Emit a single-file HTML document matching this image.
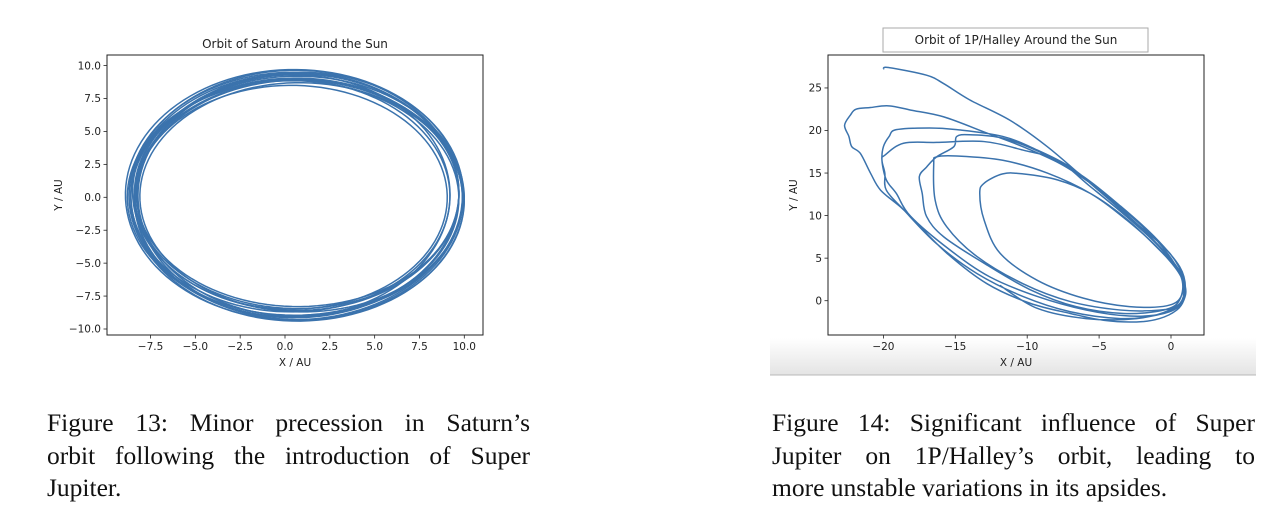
<!DOCTYPE html>
<html><head><meta charset="utf-8">
<style>
html,body{margin:0;padding:0;background:#fff;}
body{width:1288px;height:530px;position:relative;overflow:hidden;}
svg{position:absolute;left:0;top:0;}
.cap{position:absolute;width:483px;font-family:"Liberation Serif",serif;font-size:25.5px;line-height:32.5px;color:#111;}
.cap div{text-align:justify;text-align-last:justify;white-space:nowrap;}
.cap div.last{text-align-last:left;}
</style></head>
<body>
<svg id="svg" width="1288" height="530" xmlns="http://www.w3.org/2000/svg">
<defs>
<linearGradient id="bandg" x1="0" y1="0" x2="0" y2="1">
<stop offset="0" stop-color="#ffffff"/><stop offset="1" stop-color="#e4e4e4"/>
</linearGradient>
</defs>
<rect x="770" y="338" width="486" height="37" fill="url(#bandg)"/>
<line x1="770" y1="375" x2="1256" y2="375" stroke="#b8b8b8" stroke-width="1"/>
<g id="left"></g>
<g id="right"></g>
</svg>
<div class="cap" style="left:47px;top:407px;"><div style="white-space:normal">Figure 13: Minor precession in Saturn’s</div><div style="white-space:normal">orbit following the introduction of Super</div><div class="last">Jupiter.</div></div>
<div class="cap" style="left:772px;top:407px;"><div style="white-space:normal">Figure 14: Significant influence of Super</div><div style="white-space:normal">Jupiter on 1P/Halley’s orbit, leading to</div><div class="last">more unstable variations in its apsides.</div></div>
<script>
// Saturn orbit parameters (AU)
const satCx = [0.5,0.6,0.7,0.4,0.8,0.5,0.9,0.6,0.3,0.7,0.55,0.45,0.75,0.65,0.35,0.85];
const satCy = [0.2,0.0,0.3,0.1,-0.2,0.2,0.0,0.4,0.1,-0.1,0.25,-0.05,0.15,0.3,0.0,0.1];
const satA  = [9.2,9.3,9.0,8.8,9.2,9.4,9.0,9.1,8.9,9.3,9.15,9.25,8.95,9.05,8.7,9.1];
const satB  = [9.3,9.0,8.6,9.2,9.1,9.5,8.7,9.0,8.8,9.3,9.4,8.9,9.2,8.75,8.5,9.4];
const satRot= [-3,-5,-2,-6,-4,-1,-7,-3,-5,-2,-4,-6,-3,-5,-2,-4];
const satXTicks = [-7.5,-5,-2.5,0,2.5,5,7.5,10];
const satYTicks = [-10,-7.5,-5,-2.5,0,2.5,5,7.5,10];
// Halley trajectory (AU)
const halX = [-20,-19.65,-17,-15.8,-14,-11.2,-8.6,-5.9,-3.5,-1.2,0.4,1,0.9,0.4,-0.8,-2.4,-4.7,-7,-9.8,-12.8,-15.6,-17.9,-18.8,-20.2,-20.9,-21.6,-22.2,-22.4,-22.7,-22.3,-21.9,-20.9,-19.65,-18.1,-15.8,-12.8,-10.3,-7.7,-5.6,-3.3,-1,0.5,0.9,0.4,-1,-3.5,-7,-10.3,-13.5,-16.3,-18.6,-19.8,-19.9,-20.1,-20,-19.6,-19.1,-16.8,-14.9,-11.7,-9.3,-7,-4.7,-2.4,-0.1,0.9,0.7,-0.5,-2.9,-5.9,-9.3,-12.6,-15.4,-18.1,-19.1,-19.8,-20.1,-19.9,-18.6,-16.3,-13,-10.3,-7.9,-5.6,-3.1,-0.8,0.7,0.6,-0.5,-3.3,-6.6,-9.8,-13,-15.8,-17,-17.3,-17.5,-17,-16.3,-15.1,-14.9,-14,-11.7,-8.9,-6.1,-3.5,-1.2,0.6,1,0.5,-0.8,-3.5,-7,-10.3,-13.5,-15.6,-16.4,-16.5,-16.3,-14.9,-11.7,-8.6,-5.6,-3.1,-0.8,0.7,0.7,-0.3,-2.9,-6.1,-9.3,-11.9,-13,-13.3,-13,-11.7,-10.3,-7.9,-5.6,-3.3,-1,0.6,0.9,-0.1,-2.4,-5.9,-9.3,-11.9];
const halY = [27.2,27.4,26.5,25.5,23.6,21.2,18.1,14.2,10.7,7.1,4,1.6,0.1,-1.1,-2.1,-2.5,-2.3,-1.5,-0.3,2,5.6,9.5,11,13,15,17.3,18.1,19.3,20.6,21.8,22.5,22.7,22.9,22.4,21.6,19.7,18.1,16.1,13.8,10.7,7.1,3.6,0.9,-0.7,-1.7,-2.1,-1.3,0.5,3.2,6.7,10.7,13,15,16.5,18.1,19.3,20.1,20.3,20.1,19.3,17.7,15.7,12.6,9.1,5.6,2.4,-0.3,-1.5,-1.8,-1.1,0.5,2.8,6,9.9,12.6,14.2,16.5,17.1,18.5,18.6,18.7,17.7,16.5,13.4,9.9,6.3,2.8,0.1,-1.1,-1.5,-0.7,1.3,4.4,7.5,9.9,12.6,14.6,15.7,16.9,18.1,19.3,19.5,19.1,17.3,14.6,11.1,7.6,4,1.3,-0.5,-1.1,-1.1,-0.1,2,5.2,8.7,11.8,16.1,16.9,17,16.5,15,12.6,9.5,6,2.8,0.5,-0.6,-0.7,0.3,2.4,5.6,9.5,12.6,13.8,14.9,14.9,14.2,12.6,9.9,6.3,3.2,0.5,-1.1,-2.1,-2.1,-0.9,1.8];
const halXTicks = [-20,-15,-10,-5,0];
const halYTicks = [0,5,10,15,20,25];

const NS="http://www.w3.org/2000/svg";
const LINE="#3b73ad";
const FS=10.5;
function mk(tag,attrs,parent){const e=document.createElementNS(NS,tag);for(const k in attrs)e.setAttribute(k,attrs[k]);parent.appendChild(e);return e;}
function fmt(v,dec){return (v<0?"\u2212":"")+Math.abs(v).toFixed(dec);}

function axes(g,box,sx,sy,xt,yt,dec,title,titleBox){
  const fr=mk('rect',{x:box.l,y:box.t,width:box.r-box.l,height:box.b-box.t,fill:'none',stroke:'#222','stroke-width':1},g);
  
  
  xt.forEach(v=>{
    const x=sx(v);
    const t=mk('line',{x1:x,y1:box.b,x2:x,y2:box.b+3.5,stroke:'#222','stroke-width':0.8},g);
    
    
    const l=mk('text',{x:x,y:box.b+15,'text-anchor':'middle','font-size':FS,'font-family':'DejaVu Sans, sans-serif',fill:'#222'},g);
    l.textContent=fmt(v,dec);
    
    
  });
  yt.forEach(v=>{
    const y=sy(v);
    const t=mk('line',{x1:box.l-3.5,y1:y,x2:box.l,y2:y,stroke:'#222','stroke-width':0.8},g);
    
    
    const l=mk('text',{x:box.l-6,y:y+3.7,'text-anchor':'end','font-size':FS,'font-family':'DejaVu Sans, sans-serif',fill:'#222'},g);
    l.textContent=fmt(v,dec);
    
    
  });
  const xl=mk('text',{x:(box.l+box.r)/2,y:box.b+31,'text-anchor':'middle','font-size':FS,'font-family':'DejaVu Sans, sans-serif',fill:'#222'},g);
  xl.textContent='X / AU';
  
  
  const yl=mk('text',{x:0,y:0,'text-anchor':'middle','font-size':FS,'font-family':'DejaVu Sans, sans-serif',fill:'#222',transform:`translate(${box.yLabelX},${(box.t+box.b)/2}) rotate(-90)`},g);
  yl.textContent='Y / AU';
  
  
  if(titleBox){
    const tb=mk('rect',{x:titleBox.x,y:titleBox.y,width:titleBox.w,height:titleBox.h,fill:'#fff',stroke:'#aaa','stroke-width':1},g);
    
    
  }
  const tt=mk('text',{x:(box.l+box.r)/2,y:titleBox?titleBox.y+16:box.t-7,'text-anchor':'middle','font-size':12,'font-family':'DejaVu Sans, sans-serif',fill:'#222'},g);
  tt.textContent=title;
  
  
}

// Left: Saturn
(function(){
  const g=document.getElementById('left');
  const box={l:107,r:483,t:55,b:335,yLabelX:62};
  const sx=v=>285+17.93*v, sy=v=>197.3-13.17*v;
  axes(g,box,sx,sy,satXTicks,satYTicks,1,'Orbit of Saturn Around the Sun',null);
  satCx.forEach((cx,i)=>{
    const r=satRot[i]*Math.PI/180;let d='';
    for(let k=0;k<=120;k++){
      const th=k/120*2*Math.PI;
      const ex=satA[i]*Math.cos(th), ey=satB[i]*Math.sin(th);
      const x=cx+ex*Math.cos(r)-ey*Math.sin(r), y=satCy[i]+ex*Math.sin(r)+ey*Math.cos(r);
      d+=(k?'L':'M')+sx(x).toFixed(2)+' '+sy(y).toFixed(2);
    }
    const p=mk('path',{d:d+'Z',fill:'none',stroke:LINE,'stroke-width':1.5},g);
    
    
  });
})();

// Right: Halley
(function(){
  const g=document.getElementById('right');
  const box={l:828,r:1204,t:55,b:335,yLabelX:797};
  const sx=v=>1171+14.38*v, sy=v=>300.7-8.51*v;
  axes(g,box,sx,sy,halXTicks,halYTicks,0,'Orbit of 1P/Halley Around the Sun',{x:883,y:28,w:265,h:24});
  const P=halX.map((x,i)=>[sx(x),sy(halY[i])]);
  let d='M'+P[0][0]+' '+P[0][1];
  for(let i=0;i<P.length-1;i++){
    const p0=P[Math.max(0,i-1)],p1=P[i],p2=P[i+1],p3=P[Math.min(P.length-1,i+2)];
    const c1=[p1[0]+(p2[0]-p0[0])/6,p1[1]+(p2[1]-p0[1])/6];
    const c2=[p2[0]-(p3[0]-p1[0])/6,p2[1]-(p3[1]-p1[1])/6];
    d+=`C${c1[0].toFixed(2)} ${c1[1].toFixed(2)} ${c2[0].toFixed(2)} ${c2[1].toFixed(2)} ${p2[0].toFixed(2)} ${p2[1].toFixed(2)}`;
  }
  const p=mk('path',{d:d,fill:'none',stroke:LINE,'stroke-width':1.5,'stroke-linejoin':'round'},g);
  
  
})();
</script>
</body></html>
